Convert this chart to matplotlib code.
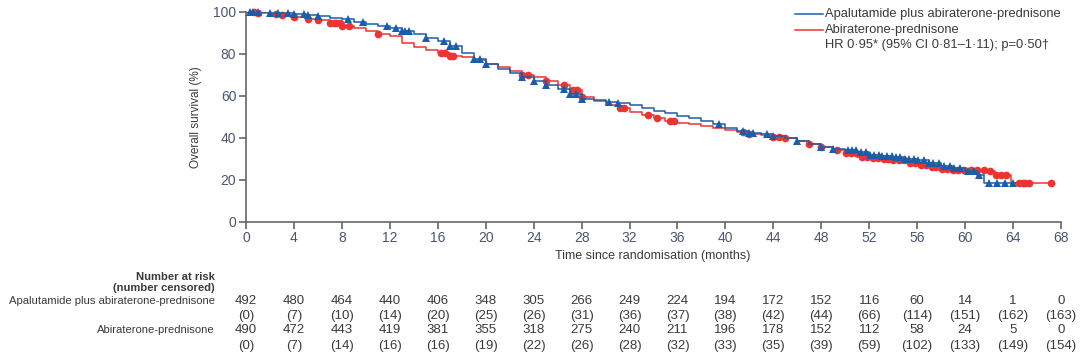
import matplotlib
matplotlib.use("Agg")
import matplotlib.pyplot as plt
import matplotlib.transforms as mtransforms
from matplotlib.lines import Line2D
import numpy as np

plt.rcParams['font.family'] = ['Liberation Sans', 'DejaVu Sans']

# survival curves (knots, step-post)
apa_t = [0, 1, 2, 3, 4, 5, 6, 7, 8, 9, 10, 11, 12, 13, 14, 15, 16, 17, 18, 19, 20,
         21, 22, 23, 24, 25, 26, 27, 28, 29, 30, 31, 32, 33, 34, 35, 36, 37, 38, 39, 40,
         41, 42, 43, 44, 45, 46, 47, 48, 49, 50, 51, 52, 53, 54, 55, 56, 57, 58, 59, 60,
         61, 61.6, 63, 64.2]
apa_s = [100, 100, 99.6, 99.4, 99, 98.6, 98, 97.2, 96.4, 95.4, 94.4, 93.4, 92.2, 91, 89.6, 87.4, 86, 83.6, 80.4, 77.4, 75,
         73, 71, 69, 67, 65.2, 63.2, 61, 58.6, 57.8, 57.2, 56.6, 55.4, 54, 52.6, 51.6, 50.6, 49.6, 48.2, 46.4, 44.6,
         43.2, 42.4, 41.8, 41, 39.8, 38.4, 37, 35.6, 34.8, 34, 33, 32, 31.4, 30.8, 30, 29.2, 28, 26.6, 25.4, 24,
         22.4, 18.4, 18.4, 18.4]

abi_t = [0, 1, 2, 3, 4, 5, 6, 7, 8, 9, 10, 11, 12, 13, 14, 15, 16, 17, 18, 19, 20,
         21, 22, 23, 24, 25, 26, 27, 28, 29, 30, 31, 32, 33, 34, 35, 36, 37, 38, 39, 40,
         41, 42, 43, 44, 45, 46, 47, 48, 49, 50, 51, 52, 53, 54, 55, 56, 57, 58, 59, 60,
         61, 62, 62.5, 63.8, 67.3]
abi_s = [100, 99.6, 99.2, 98.6, 97.6, 96.8, 96, 94.8, 93.2, 92.2, 91, 89.6, 88.4, 85, 83.2, 81.8, 80.4, 79.2, 78.4, 77, 75.2,
         73.6, 71.6, 70, 68.8, 67, 65, 62.8, 59.6, 57.4, 55.8, 54, 52.4, 51, 49.6, 48, 47, 46.4, 45.6, 44.8, 43.6,
         42.6, 42, 41.4, 40.2, 40, 38.6, 37, 35.6, 34.2, 32.6, 31, 30.4, 29.8, 29.2, 28, 26.8, 26, 25.2, 24.8, 24.6,
         24.4, 24.2, 22.2, 18.4, 18.4]

# censoring times
apa_cens = [0.3, 0.6, 1, 2, 2.7, 3.5, 4, 4.8, 5.2, 6, 8.5, 9.8, 11.8, 12.5, 13, 13.3, 13.6, 15, 16.5, 17, 17.5,
            19, 19.5, 20, 23, 24, 25, 26.5, 27, 27.5, 28, 30.3, 31, 39.5, 41.5, 42, 42.3, 43.5, 44, 46, 48, 49,
            50.2, 50.6, 50.9, 51.3, 51.7, 52.1, 52.4, 52.8, 53.1, 53.5, 53.9, 54.2, 54.6, 55, 55.3, 55.7, 56.1,
            56.6, 57, 57.3, 57.8, 58.2, 58.7, 59.1, 59.6, 60.2, 60.7, 61.2, 62, 62.7, 63.3, 64]
abi_cens = [0.7, 1, 2.5, 3, 4, 5.2, 6, 7, 7.3, 7.5, 7.8, 8, 8.6, 11, 16.3, 16.6, 17, 17.3, 23, 23.5, 25, 26.5,
            27.3, 27.6, 28, 31.2, 31.5, 33.5, 34.3, 35.4, 35.7, 41.5, 42, 44, 44.5, 45, 47, 48, 49.3,
            50.1, 50.5, 50.9, 51.4, 51.8, 52.3, 52.7, 53.2, 53.6, 54, 54.5, 54.9, 55.4, 55.8, 56.3, 56.7,
            57.2, 57.6, 58.1, 58.5, 59, 59.4, 59.9, 60.5, 61, 61.6, 62.1, 62.6, 63, 63.4, 64.5, 64.8, 65, 65.3, 67.2]

months = [0, 4, 8, 12, 16, 20, 24, 28, 32, 36, 40, 44, 48, 52, 56, 60, 64, 68]
apa_risk = [492, 480, 464, 440, 406, 348, 305, 266, 249, 224, 194, 172, 152, 116, 60, 14, 1, 0]
apa_cens_n = [0, 7, 10, 14, 20, 25, 26, 31, 36, 37, 38, 42, 44, 66, 114, 151, 162, 163]
abi_risk = [490, 472, 443, 419, 381, 355, 318, 275, 240, 211, 196, 178, 152, 112, 58, 24, 5, 0]
abi_cens_n = [0, 7, 14, 16, 16, 19, 22, 26, 28, 32, 33, 35, 39, 59, 102, 133, 149, 154]

blue = '#1b5cab'
red = '#ee3430'
txt = '#3a3a3a'
tick_col = '#4a5570'


def step_at(t, s, x):
    idx = np.searchsorted(t, x, side='right') - 1
    return np.asarray(s)[idx]


fig = plt.figure(figsize=(10.8, 3.61), dpi=100)
ax = fig.add_axes([0.2278, 0.386, 0.7546, 0.581])

ax.plot(abi_t, abi_s, drawstyle='steps-post', color=red, lw=1.1, zorder=2)
ax.plot(apa_t, apa_s, drawstyle='steps-post', color=blue, lw=1.1, zorder=3)
ax.plot(abi_cens, step_at(abi_t, abi_s, abi_cens), 'o', color=red, ms=5.5, mew=0,
        zorder=2, clip_on=False)
ax.plot(apa_cens, step_at(apa_t, apa_s, apa_cens), '^', color=blue, ms=6, mew=0,
        zorder=3, clip_on=False)

ax.set_xlim(0, 68)
ax.set_ylim(0, 100)
ax.set_xticks(months)
ax.set_yticks([0, 20, 40, 60, 80, 100])
for sp in ['top', 'right']:
    ax.spines[sp].set_visible(False)
for sp in ['left', 'bottom']:
    ax.spines[sp].set_color('#666666')
    ax.spines[sp].set_linewidth(1.2)
ax.tick_params(direction='out', length=5, width=1.2, color='#666666',
               labelcolor=tick_col, labelsize=10, pad=2)
ax.set_ylabel('Overall survival (%)', fontsize=8.5, color=txt, labelpad=8)

fig.text(0.604, 0.291, 'Time since randomisation (months)', ha='center', va='center',
         fontsize=9, color=txt)

# legend
for yy, c in [(0.961, blue), (0.917, red)]:
    fig.add_artist(Line2D([0.736, 0.762], [yy, yy], color=c, lw=1.1,
                          transform=fig.transFigure))
fig.text(0.764, 0.961, 'Apalutamide plus abiraterone-prednisone', va='center', fontsize=9.3, color=txt)
fig.text(0.764, 0.917, 'Abiraterone-prednisone', va='center', fontsize=9.3, color=txt)
fig.text(0.764, 0.875, 'HR 0·95* (95% CI 0·81–1·11); p=0·50†', va='center', fontsize=9.3, color=txt)

# number at risk table
tr = mtransforms.blended_transform_factory(ax.transData, fig.transFigure)
lx = 0.199
fs_lab = 8.1
fig.text(lx, 0.234, 'Number at risk', ha='right', va='center', fontsize=fs_lab, color=txt, fontweight='bold')
fig.text(lx, 0.201, '(number censored)', ha='right', va='center', fontsize=fs_lab, color=txt, fontweight='bold')
fig.text(lx, 0.166, 'Apalutamide plus abiraterone-prednisone', ha='right', va='center', fontsize=fs_lab, color=txt)
fig.text(lx, 0.086, 'Abiraterone-prednisone', ha='right', va='center', fontsize=fs_lab, color=txt)
for m, a, ac, b, bc in zip(months, apa_risk, apa_cens_n, abi_risk, abi_cens_n):
    ax.text(m, 0.166, str(a), transform=tr, ha='center', va='center', fontsize=9.5, color=txt)
    ax.text(m, 0.125, '(%d)' % ac, transform=tr, ha='center', va='center', fontsize=9.5, color=txt)
    ax.text(m, 0.086, str(b), transform=tr, ha='center', va='center', fontsize=9.5, color=txt)
    ax.text(m, 0.042, '(%d)' % bc, transform=tr, ha='center', va='center', fontsize=9.5, color=txt)

fig.savefig('out.png', dpi=100)
